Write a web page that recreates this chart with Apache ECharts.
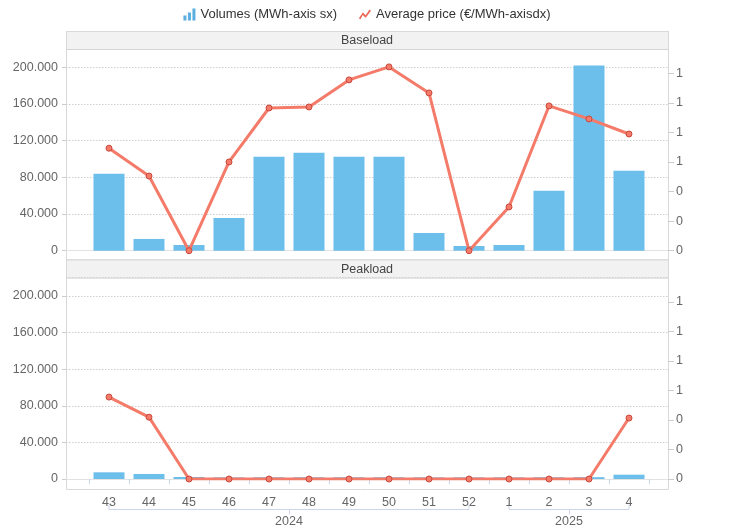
<!DOCTYPE html>
<html><head><meta charset="utf-8">
<script src="https://cdn.jsdelivr.net/npm/echarts@6/dist/echarts.min.js"></script>
<style>html,body{margin:0;padding:0;background:#fff}#c{width:734px;height:529px}</style>
</head><body><div id="c"></div>
<script>
// ---- data ----
const weeks = ['43','44','45','46','47','48','49','50','51','52','1','2','3','4'];
const yearLabels = ['2024','2025'];
const yearFirstIndex = [0, 10];
const yearLastIndex = [9, 13];
const panelTitles = ['Baseload','Peakload'];
const baseVolumes = [84000, 12800, 6200, 35700, 102400, 106800, 102400, 102400, 19300, 5100, 6200, 65300, 202000, 87100];
const basePrices = [0.693, 0.505, 0, 0.60, 0.965, 0.972, 1.155, 1.243, 1.067, 0, 0.296, 0.979, 0.891, 0.789];
const peakVolumes = [7300, 5500, 2200, 1800, 1900, 1900, 1900, 1900, 1800, 1800, 1800, 1900, 2000, 4700];
const peakPrices = [0.555, 0.419, 0, 0, 0, 0, 0, 0, 0, 0, 0, 0, 0, 0.413];
const volumeAxis = {min: 0, max: 220000, interval: 40000};
const priceAxis = {min: 0, max: 1.364, interval: 0.2};
const seriesNames = ['Volumes (MWh-axis sx)', 'Average price (€/MWh-axisdx)'];

// ---- layout / style ----
const W = 734;
const boxLeft = 66, boxRight = 668, innerLeft = 89, innerRight = 649;
const panels = [
  {boxTop: 31, bandBottom: 49, zero: 250.7, boxBottom: 259.5},
  {boxTop: 259.5, bandBottom: 277.7, zero: 479, boxBottom: 489}
];
const volumesByPanel = [baseVolumes, peakVolumes];
const pricesByPanel = [basePrices, peakPrices];
const FONT = "'Liberation Sans', Arial, sans-serif";
const barColor = '#6cbeeb', lineColor = '#f47b69';
const labelColor = '#666666';
const fmtThousands = v => String(Math.round(v)).replace(/\B(?=(\d{3})+(?!\d))/g, '.');

const grid = [], xAxis = [], yAxis = [], series = [], graphic = [];
panels.forEach((p, i) => {
  const h = p.zero - p.bandBottom;
  grid.push({left: boxLeft, right: W - boxRight, top: p.bandBottom, height: h});
  grid.push({left: innerLeft, right: W - innerRight, top: p.bandBottom, height: h});
  // background x axis (zero line)
  xAxis.push({gridIndex: 2*i, type: 'value', min: 0, max: 1,
    axisLine: {show: true, lineStyle: {color: '#e2e2e2', width: 1}},
    axisTick: {show: false}, axisLabel: {show: false}, splitLine: {show: false}});
  // category axis
  const isLast = i === panels.length - 1;
  xAxis.push({gridIndex: 2*i+1, type: 'category', data: weeks, boundaryGap: true,
    show: isLast, offset: isLast ? (p.boxBottom - p.zero) : 0,
    axisLine: {show: false},
    axisTick: {show: true, length: 5, lineStyle: {color: '#ccd6eb'}},
    axisLabel: {show: true, color: labelColor, fontSize: 12.5, fontFamily: FONT, margin: 7},
    splitLine: {show: false}});
  // background left volume axis
  yAxis.push({gridIndex: 2*i, type: 'value', position: 'left',
    min: volumeAxis.min, max: volumeAxis.max, interval: volumeAxis.interval,
    axisLine: {show: false},
    axisTick: {show: true, length: 4, lineStyle: {color: '#cccccc'}},
    axisLabel: {color: labelColor, fontSize: 12.5, fontFamily: FONT, margin: 8, showMaxLabel: false,
      formatter: v => (v % volumeAxis.interval === 0 ? fmtThousands(v) : '')},
    splitLine: {show: true, lineStyle: {color: '#cfcfcf', type: [1.5, 1.5], width: 1}}});
  // background right price axis
  yAxis.push({gridIndex: 2*i, type: 'value', position: 'right',
    min: priceAxis.min, max: priceAxis.max, interval: priceAxis.interval,
    axisLine: {show: false},
    axisTick: {show: true, length: 6, lineStyle: {color: '#cccccc'}},
    axisLabel: {color: labelColor, fontSize: 12.5, fontFamily: FONT, margin: 8, showMaxLabel: false,
      formatter: v => String(Math.round(v))},
    splitLine: {show: false}});
  // inner hidden axes
  yAxis.push({gridIndex: 2*i+1, type: 'value', show: false, min: volumeAxis.min, max: volumeAxis.max, splitLine: {show: false}});
  yAxis.push({gridIndex: 2*i+1, type: 'value', show: false, min: priceAxis.min, max: priceAxis.max, splitLine: {show: false}});

  series.push({name: seriesNames[0], type: 'bar', xAxisIndex: 2*i+1, yAxisIndex: 4*i+2,
    data: volumesByPanel[i], barWidth: 31, itemStyle: {color: barColor}, z: 2, animation: false});
  series.push({name: seriesNames[1], type: 'line', xAxisIndex: 2*i+1, yAxisIndex: 4*i+3,
    data: pricesByPanel[i], symbol: 'circle', symbolSize: 6, showSymbol: true,
    lineStyle: {color: lineColor, width: 3},
    itemStyle: {color: lineColor, borderColor: '#c9483b', borderWidth: 1}, z: 3, animation: false});

  // panel box & title band
  graphic.push({type: 'rect', z: 0, silent: true,
    shape: {x: boxLeft + 0.5, y: p.boxTop + 0.5, width: boxRight - boxLeft, height: p.boxBottom - p.boxTop},
    style: {fill: null, stroke: '#d9d9d9', lineWidth: 1}});
  graphic.push({type: 'rect', z: 0, silent: true,
    shape: {x: boxLeft + 0.5, y: p.boxTop + 0.5, width: boxRight - boxLeft, height: p.bandBottom - p.boxTop},
    style: {fill: '#f2f2f2', stroke: '#d9d9d9', lineWidth: 1}});
  graphic.push({type: 'text', z: 1, silent: true,
    x: (boxLeft + boxRight) / 2, y: (p.boxTop + p.bandBottom) / 2 + 0.5,
    style: {text: panelTitles[i], fill: '#444444', font: '12.5px ' + FONT, align: 'center', verticalAlign: 'middle'}});
});

const chart = echarts.init(document.getElementById('c'), null, {renderer: 'canvas'});
const option = {
  animation: false,
  backgroundColor: '#ffffff',
  legend: {
    top: 3, left: 'center', itemWidth: 12, itemHeight: 12, itemGap: 22,
    textStyle: {color: '#333333', fontSize: 13, fontFamily: FONT},
    data: [
      {name: seriesNames[0], icon: 'path://M0,12 h3 v-5 h-3z M4.5,12 h3 v-8 h-3z M9,12 h3 v-12 h-3z',
        itemStyle: {color: '#5aaee0', borderWidth: 0}},
      {name: seriesNames[1], icon: 'path://M0,10 L4,4 L7,7 L11,1 L12.5,2.2 L7,9.5 L4,6.5 L1.4,11.2 Z',
        itemStyle: {color: '#ec6452', borderWidth: 0}}
    ]
  },
  grid, xAxis, yAxis, series, graphic
};
chart.setOption(option);

// year group brackets under the week labels
const bracketY = 509.5;
const extra = [];
yearLabels.forEach((lab, k) => {
  const x0 = chart.convertToPixel({xAxisIndex: 3}, yearFirstIndex[k]);
  const x1 = chart.convertToPixel({xAxisIndex: 3}, yearLastIndex[k]);
  const xm = (x0 + x1) / 2;
  extra.push({type: 'polyline', silent: true,
    shape: {points: [[x0, bracketY - 5], [x0, bracketY], [x1, bracketY], [x1, bracketY - 5]]},
    style: {stroke: '#ccd6eb', lineWidth: 1, fill: null}});
  extra.push({type: 'line', silent: true,
    shape: {x1: Math.round(xm) + 0.5, y1: bracketY, x2: Math.round(xm) + 0.5, y2: bracketY + 5},
    style: {stroke: '#ccd6eb', lineWidth: 1}});
  extra.push({type: 'text', silent: true, x: xm, y: 521.7,
    style: {text: lab, fill: labelColor, font: '12.5px ' + FONT, align: 'center', verticalAlign: 'middle'}});
});
chart.setOption({graphic: graphic.concat(extra)});
</script>
</body></html>
